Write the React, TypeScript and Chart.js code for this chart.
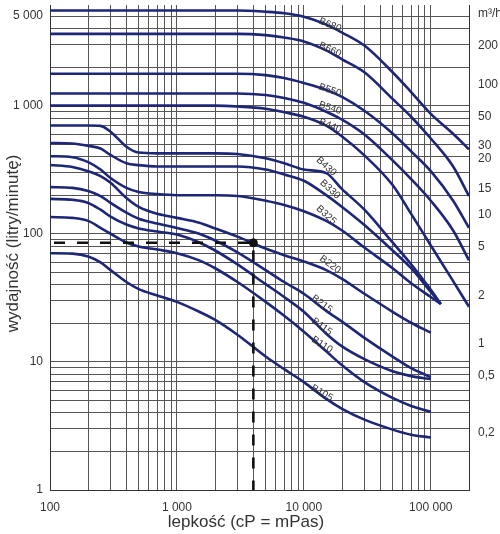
import React, { useEffect, useRef } from 'react';
import { Chart, registerables } from 'chart.js';

Chart.register(...registerables);

// Viscosity grid (cP) shared by all pump curves
const viscosity = [100, 150, 200, 250, 300, 400, 500, 700, 1000, 1500, 2000, 3000, 5000, 7000, 10000, 15000, 20000, 30000, 50000, 70000, 100000, 120000, 150000, 200000];

// Flow rate (litres/minute) for each pump model at the viscosities above (null = no reading)
const B680 = [5530, 5530, 5530, 5530, 5530, 5530, 5530, 5530, 5530, 5530, 5530, 5530, 5405, 5260, 4943, 4285, 3718, 2943, 1821, 1276, 863, null, 603, 455];
const B660 = [3630, 3630, 3630, 3630, 3630, 3630, 3630, 3630, 3630, 3630, 3630, 3630, 3550, 3400, 3169, 2700, 2300, 1821, 1129, 819, 554, null, 335, 197];
const B550 = [1775, 1775, 1775, 1775, 1775, 1775, 1775, 1775, 1775, 1775, 1775, 1775, 1730, 1640, 1500, 1325, 1170, 911, 606, 440, 308, null, 181, 111];
const B540 = [1245, 1245, 1245, 1245, 1245, 1245, 1245, 1245, 1245, 1245, 1245, 1245, 1211, 1148, 1051, 896, 777, 595, 374, 267, 181, null, 106, 62];
const B440 = [1000, 1000, 1000, 1000, 1000, 1000, 1000, 1000, 1000, 1000, 1000, 985, 945, 888, 819, 698, 574, 409, 240, 143, 81, null, 42.7, 26.9];
const B430 = [700, 700, 700, 695, 626, 478, 430, 424, 424, 424, 424, 419, 388, 355, 317, 297, 223, 154, 85.5, 57.8, 36.5, 28.3, null, null];
const B330 = [511, 506, 485, 463, 412, 355, 343, 335, 335, 335, 335, 335, 317, 290, 259, 200, 162, 117, 74, 53.8, 35.1, 28.3, null, null];
const B325 = [403, 396, 362, 317, 272, 228, 212, 204, 200, 200, 200, 197, 181, 168, 150, 126, 106, 78, 53.8, 41.1, 32.1, 28.3, null, null];
const B220 = [344, 332, 308, 282, 250, 190, 162, 143, 133, 122, 110, 95, 76.6, 68, 60.8, 52, 44.5, 34, 24.6, 20.2, 16.9, null, null, null];
const B215 = [231, 228, 216, 197, 174, 146, 131, 120, 111, 100, 88.5, 71.6, 52, 42, 34, 25, 20.6, 15.4, 11, 8.93, 7.6, null, null, null];
const B115 = [187, 184, 174, 154, 136, 118, 110, 104, 98.5, 85.5, 74, 57.6, 40.4, 32.1, 24.6, 16.6, 13.2, 10.5, 8.45, 7.74, 7.34, null, null, null];
const B110 = [135, 133, 126, 111, 100, 85.5, 79.5, 75.3, 70.5, 62, 53.8, 42, 29.4, 22.9, 17.2, 12.1, 9.4, 6.95, 5.23, 4.53, 4.08, null, null, null];
const B105 = [70.5, 70, 66.5, 59.8, 52, 42, 37, 33, 29.4, 24.6, 21.3, 16.3, 11, 8.77, 6.95, 5.14, 4.3, 3.54, 2.96, 2.7, 2.57, null, null, null];

const seriesNames = ['B680', 'B660', 'B550', 'B540', 'B440', 'B430', 'B330', 'B325', 'B220', 'B215', 'B115', 'B110', 'B105'];
const seriesValues = [B680, B660, B550, B540, B440, B430, B330, B325, B220, B215, B115, B110, B105];

// Where each model name sits on its curve (viscosity, flow) and its tilt in degrees
const labelViscosity = [16100, 16100, 16100, 16100, 16100, 15000, 16100, 15000, 16100, 13900, 13900, 13900, 13900];
const labelFlow = [4258, 2729, 1318, 957, 695, 335, 222, 140, 57.6, 28.3, 18.8, 13.6, 5.71];
const labelAngle = [22, 24, 18, 18, 22, 42, 42, 42, 36, 36, 36, 32, 30];

// Worked example: 4000 cP read across to the flow axis
const exampleViscosity = 4000;
const exampleFlow = 85;

// Axis ticks
const xTicks = [100, 200, 300, 400, 500, 600, 700, 800, 900, 1000, 2000, 3000, 4000, 5000, 6000, 7000, 8000, 9000, 10000, 20000, 30000, 40000, 50000, 60000, 70000, 80000, 90000, 100000, 200000];
const xLabelled = [100, 1000, 10000, 100000];
const yTicks = [1, 2, 3, 4, 5, 6, 7, 8, 9, 10, 20, 30, 40, 50, 60, 70, 80, 90, 100, 200, 300, 400, 500, 600, 700, 800, 900, 1000, 2000, 3000, 4000, 5000];
const yLabelled = [1, 10, 100, 1000, 5000];
// Secondary flow axis in m³/h, placed against the litres/minute scale
const m3hLabels = ['200', '100', '50', '30', '20', '15', '10', '5', '2', '1', '0,5', '0,2'];
const m3hAt = [2932, 1466, 815, 487, 386, 226, 140, 79, 32.6, 13.9, 7.87, 2.8];

const FONT = "'Liberation Sans', Arial, Helvetica, sans-serif";
const CURVE = '#1d2677';
const GRID = '#555555';
const TEXT = '#333333';

const spaced = (v: number) => String(v).replace(/\B(?=(\d{3})+(?!\d))/g, ' ');

const noEdgePadding = (s: any) => {
  s.paddingTop = 0;
  s.paddingBottom = 0;
  s.paddingLeft = 0;
  s.paddingRight = 0;
};

const annotations = {
  id: 'pumpAnnotations',
  afterDatasetsDraw(chart: any) {
    const { ctx, scales } = chart;
    const xs = scales.x;
    const ys = scales.y;
    ctx.save();
    ctx.fillStyle = TEXT;
    ctx.font = `10px ${FONT}`;
    ctx.textAlign = 'center';
    ctx.textBaseline = 'middle';
    seriesNames.forEach((name, i) => {
      const px = xs.getPixelForValue(labelViscosity[i]);
      const py = ys.getPixelForValue(labelFlow[i]);
      ctx.save();
      ctx.translate(px, py);
      ctx.rotate((labelAngle[i] * Math.PI) / 180);
      ctx.fillText(name, 0, 0);
      ctx.restore();
    });
    ctx.restore();
  },
  afterDraw(chart: any) {
    const { ctx, chartArea } = chart;
    ctx.save();
    ctx.fillStyle = TEXT;
    ctx.font = `12px ${FONT}`;
    ctx.textAlign = 'left';
    ctx.textBaseline = 'middle';
    ctx.fillText('m³/h', chartArea.right + 9, chartArea.top + 9);

    ctx.font = `17px ${FONT}`;
    ctx.textAlign = 'center';
    ctx.fillText('lepkość (cP = mPas)', chart.width / 2 - 4, chart.height - 12);

    ctx.save();
    ctx.translate(13, (chartArea.top + chartArea.bottom) / 2 - 4);
    ctx.rotate(-Math.PI / 2);
    ctx.fillText('wydajność (litry/minutę)', 0, 0);
    ctx.restore();
    ctx.restore();
  },
};

export default function App() {
  const canvasRef = useRef<HTMLCanvasElement | null>(null);

  useEffect(() => {
    const canvas = canvasRef.current;
    if (!canvas) return;

    const curveSets = seriesNames.map((name, i) => ({
      label: name,
      data: viscosity
        .map((v, j) => ({ x: v, y: seriesValues[i][j] }))
        .filter((p) => p.y !== null),
      borderColor: CURVE,
      borderWidth: 2.6,
      pointRadius: 0,
      fill: false,
      cubicInterpolationMode: 'monotone' as const,
      order: 2,
    }));

    const chart = new Chart(canvas, {
      type: 'line',
      data: {
        datasets: [
          {
            label: 'odczyt',
            data: [
              { x: viscosity[0], y: exampleFlow },
              { x: exampleViscosity, y: exampleFlow },
              { x: exampleViscosity, y: 1 },
            ],
            borderColor: '#111111',
            borderWidth: 2.6,
            borderDash: [11, 12],
            borderDashOffset: 19,
            pointRadius: 0,
            tension: 0,
            fill: false,
            order: 1,
          },
          {
            label: 'punkt',
            data: [{ x: exampleViscosity, y: exampleFlow }],
            borderColor: '#111111',
            backgroundColor: '#111111',
            pointRadius: 4,
            showLine: false,
            order: 0,
          },
          ...curveSets,
        ],
      },
      options: {
        animation: false,
        responsive: false,
        events: [],
        layout: { padding: 0 },
        plugins: {
          legend: { display: false },
          tooltip: { enabled: false },
          title: { display: false },
        },
        scales: {
          x: {
            type: 'logarithmic',
            min: 100,
            max: 200000,
            afterBuildTicks: (s: any) => {
              s.ticks = xTicks.map((v) => ({ value: v }));
            },
            afterFit: (s: any) => {
              s.height = 44;
              noEdgePadding(s);
            },
            grid: { color: GRID, lineWidth: 1, drawTicks: false },
            border: { display: true, color: '#333333', width: 1 },
            ticks: {
              autoSkip: false,
              maxRotation: 0,
              padding: 10,
              color: TEXT,
              font: { family: FONT, size: 12 },
              callback: (value: any) => (xLabelled.includes(Number(value)) ? spaced(Number(value)) : ''),
            },
          },
          y: {
            type: 'logarithmic',
            position: 'left',
            min: 1,
            max: 6100,
            afterBuildTicks: (s: any) => {
              s.ticks = yTicks.map((v) => ({ value: v }));
            },
            afterFit: (s: any) => {
              s.width = 50;
              noEdgePadding(s);
            },
            grid: { color: GRID, lineWidth: 1, drawTicks: false },
            border: { display: true, color: '#333333', width: 1 },
            ticks: {
              autoSkip: false,
              padding: 7,
              color: TEXT,
              font: { family: FONT, size: 12 },
              callback: (value: any) => (yLabelled.includes(Number(value)) ? spaced(Number(value)) : ''),
            },
          },
          y2: {
            type: 'logarithmic',
            position: 'right',
            min: 1,
            max: 6100,
            afterBuildTicks: (s: any) => {
              s.ticks = m3hAt.map((v) => ({ value: v }));
            },
            afterFit: (s: any) => {
              s.width = 31;
              noEdgePadding(s);
            },
            grid: { display: false, drawTicks: false },
            border: { display: true, color: '#333333', width: 1 },
            ticks: {
              autoSkip: false,
              padding: 9,
              color: TEXT,
              font: { family: FONT, size: 12 },
              callback: (_value: any, index: number) => m3hLabels[index] ?? '',
            },
          },
        },
      },
      plugins: [annotations],
    });

    return () => chart.destroy();
  }, []);

  return (
    <div style={{ position: 'fixed', left: 0, top: 0, width: 500, height: 534, background: '#ffffff' }}>
      <canvas ref={canvasRef} width={500} height={534} style={{ display: 'block' }} />
    </div>
  );
}
